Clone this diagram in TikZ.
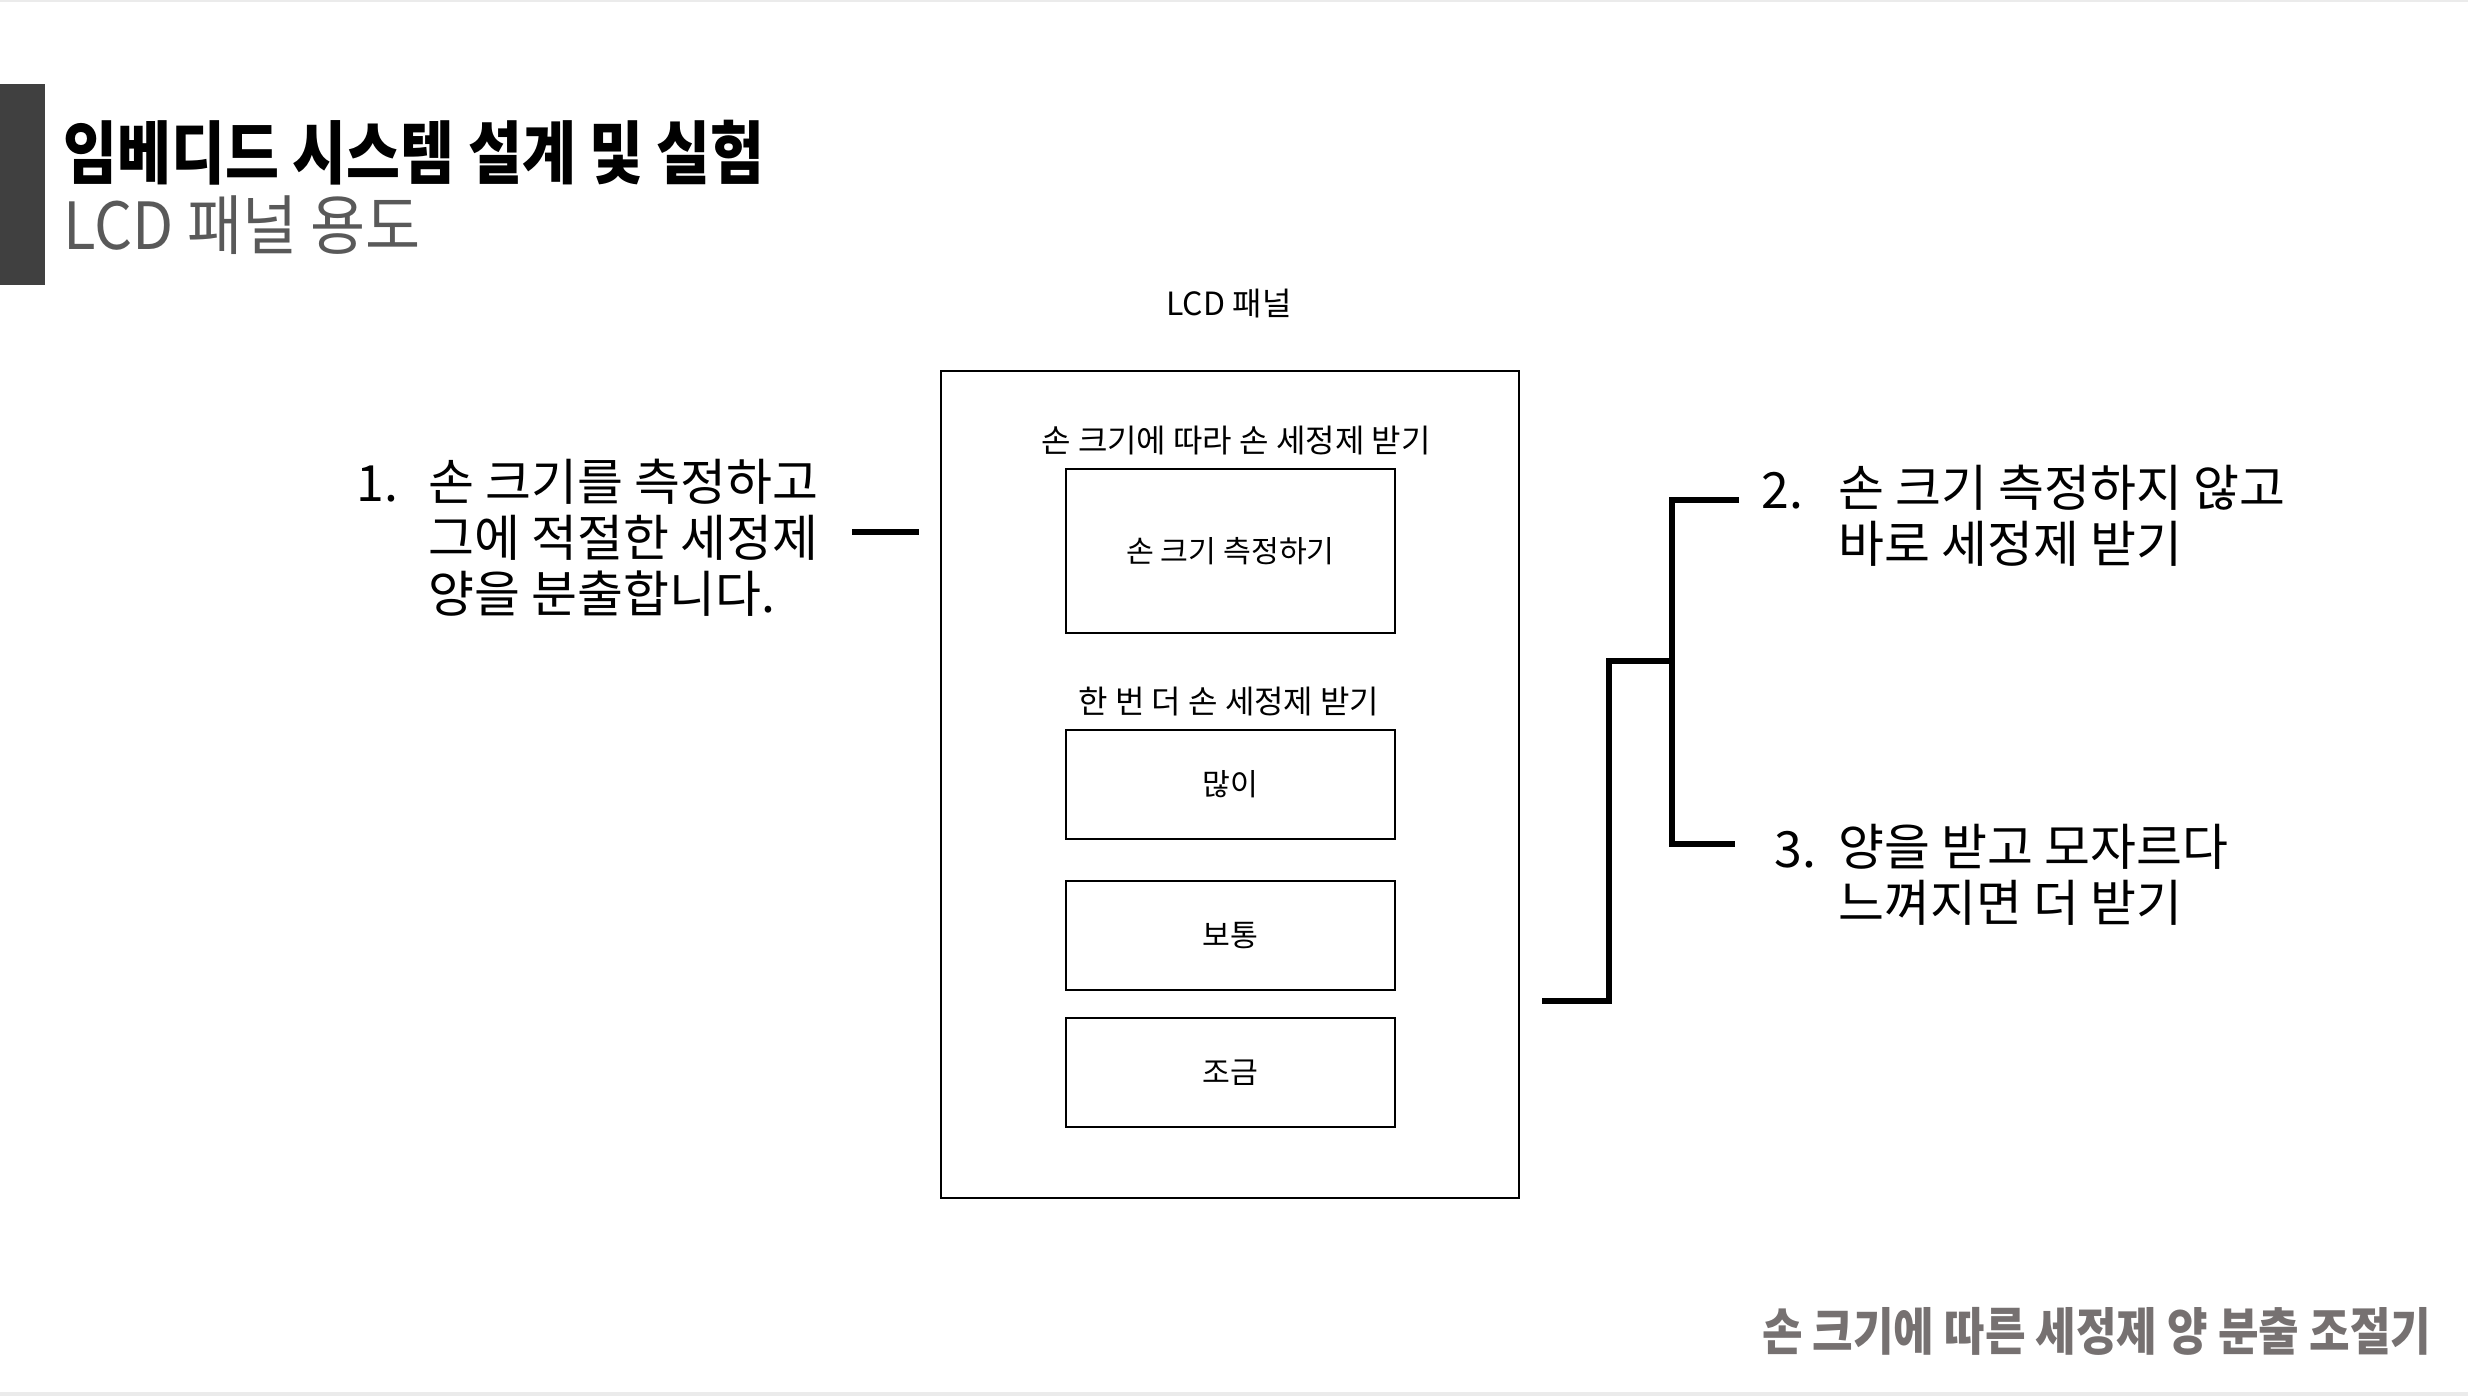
\documentclass[tikz,border=0pt]{standalone}
\usepackage{fontspec}
\setmainfont{Noto Sans CJK KR}
\newfontfamily\headfont{Noto Sans CJK KR}[FakeStretch=0.855]
\newfontfamily\subfont{Noto Sans CJK KR}[FakeStretch=0.92]
\newfontfamily\footfont{Noto Sans CJK KR}[FakeStretch=0.865]
\usetikzlibrary{positioning}
\definecolor{barcol}{HTML}{404040}
\definecolor{subcol}{HTML}{595959}
\definecolor{footcol}{HTML}{767171}
\definecolor{edgecol}{HTML}{EBEBEB}

\begin{document}
\begin{tikzpicture}[x=0.01cm,y=-0.01cm,
  box/.style={draw,line width=0.7pt,minimum width=3.29cm,inner sep=0pt,
    font=\fontsize{8.6}{10}\selectfont},
  lab/.style={inner sep=0pt,font=\fontsize{9.1}{10}\selectfont},
  item/.style={align=left,anchor=west,inner sep=0pt,
    font=\fontsize{14.2}{15.9}\selectfont},
  num/.style={anchor=west,inner sep=0pt,font=\fontsize{14.2}{15.9}\selectfont},
  wire/.style={line width=1.6pt}]
\useasboundingbox (0,0) rectangle (2468,1396);
\fill[edgecol] (0,0) rectangle (2468,2);
\fill[edgecol] (0,1392) rectangle (2468,1396);
% heading
\fill[barcol] (0,84) rectangle (45,285);
\node[anchor=base west,inner sep=0pt,font=\headfont\bfseries\fontsize{19.5}{22}\selectfont]
  (title) at (63,178) {임베디드 시스템 설계 및 실험};
\node[anchor=base west,inner sep=0pt,text=subcol,font=\subfont\fontsize{18.5}{22}\selectfont]
  (subtitle) at (63,249) {LCD 패널 용도};
% panel
\node[draw,line width=0.6pt,minimum width=5.78cm,minimum height=8.27cm] (panel) at (1230,784.5) {};
\node[lab] (paneltitle) at (1229,304) {LCD 패널};
\node[box,minimum height=1.64cm] (measure) at (1230.5,551) {손 크기 측정하기};
\node[lab] (cap1) at (1236,441) {손 크기에 따라 손 세정제 받기};
\node[box,minimum height=1.09cm] (many) at (1230.5,784.5) {많이};
\node[box,minimum height=1.09cm] (normal) at (1230.5,935.5) {보통};
\node[box,minimum height=1.09cm] (little) at (1230.5,1072.5) {조금};
\node[lab] (cap2) at (1229,702) {한 번 더 손 세정제 받기};
% left note
\node[num] (num1) at (356,484) {1.};
\node[item] (item1) at (428,538) {손 크기를 측정하고\\그에 적절한 세정제\\양을 분출합니다.};
\coordinate (l1) at (852,532);
\coordinate (l2) at (919,532);
\draw[wire] (l1) -- (l2);
% right notes
\node[num] (num2) at (1761,491) {2.};
\node[item] (item2) at (1838,516) {손 크기 측정하지 않고\\바로 세정제 받기};
\node[num] (num3) at (1774,850) {3.};
\node[item] (item3) at (1838,875) {양을 받고 모자르다\\느껴지면 더 받기};
\coordinate (b0) at (1542,1001);
\coordinate (b1) at (1609,661);
\coordinate (b2) at (1672,661);
\coordinate (e2) at (1739,500);
\coordinate (e3) at (1735,844);
\draw[wire] (b0) -| (b1) -- (b2);
\draw[wire] (e2) -| (b2) |- (e3);
% footer
\node[anchor=base east,inner sep=0pt,text=footcol,font=\footfont\bfseries\fontsize{14.5}{17}\selectfont]
  (footer) at (2432,1350) {손 크기에 따른 세정제 양 분출 조절기};
\end{tikzpicture}
\end{document}
